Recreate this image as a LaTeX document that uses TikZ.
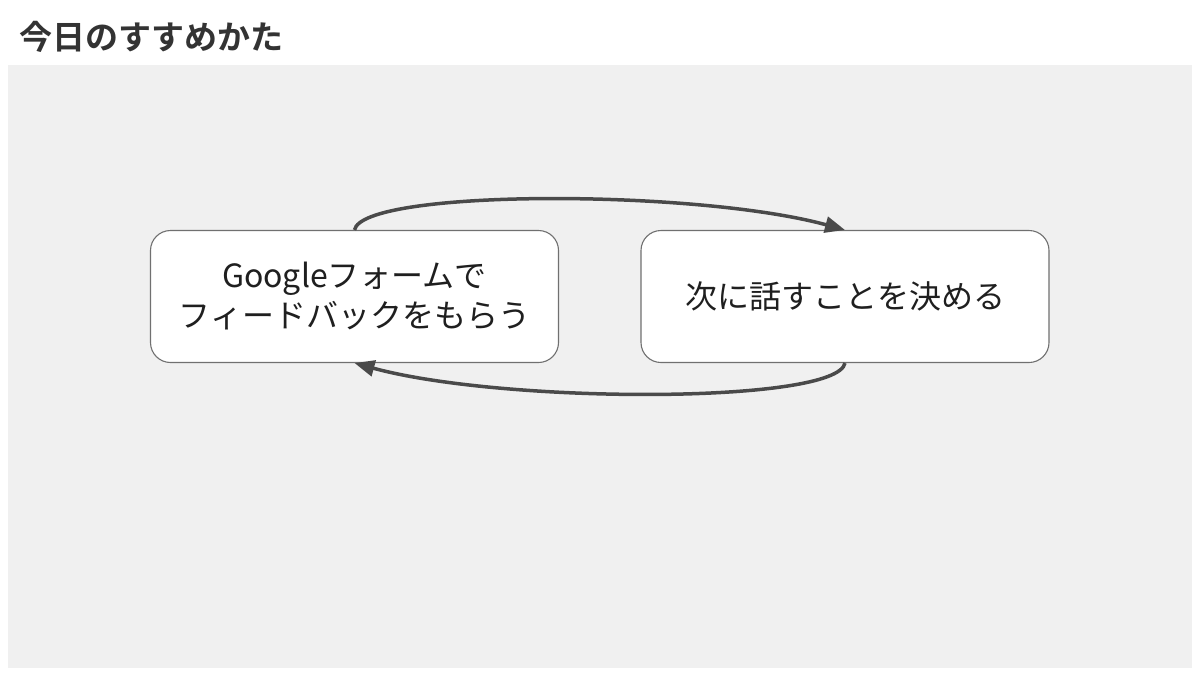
\documentclass[tikz,border=0pt]{standalone}
\usepackage{fontspec}
\setmainfont{Noto Sans CJK JP}
\newfontfamily\titlefont{Noto Sans CJK JP Bold}
\usetikzlibrary{arrows.meta}
\definecolor{bggray}{HTML}{F0F0F0}
\definecolor{arrowgray}{HTML}{4A4A4A}
\definecolor{boxline}{HTML}{707070}
\definecolor{titlegray}{HTML}{333333}
\tikzset{
  stepbox/.style={draw=boxline, line width=1.1pt, fill=white, rounded corners=20pt,
    minimum width=408pt, minimum height=132pt, inner sep=0pt, align=center,
    font=\fontsize{32}{40}\selectfont, text=black!88},
  cyclearrow/.style={draw=arrowgray, line width=3.5pt, -{Triangle[length=20pt,width=16pt]}}
}
\begin{document}
\begin{tikzpicture}[x=1pt,y=-1pt]
\useasboundingbox (0,0) rectangle (1200,675);
\fill[white] (0,0) rectangle (1200,675);
\fill[bggray] (8,65) rectangle (1192,668);
\node[anchor=west, inner sep=0pt, text=titlegray, font=\titlefont\fontsize{33}{36}\selectfont] (title) at (19,37) {今日のすすめかた};
\node[stepbox] (a) at (354.5,296.5) {Googleフォームで\\フィードバックをもらう};
\node[stepbox] (b) at (845,296.5) {次に話すことを決める};
\draw[cyclearrow] (a.north) .. controls +(8,-41) and +(-150,-41) .. (b.north);
\draw[cyclearrow] (b.south) .. controls +(-8,41) and +(150,41) .. (a.south);
\end{tikzpicture}
\end{document}
